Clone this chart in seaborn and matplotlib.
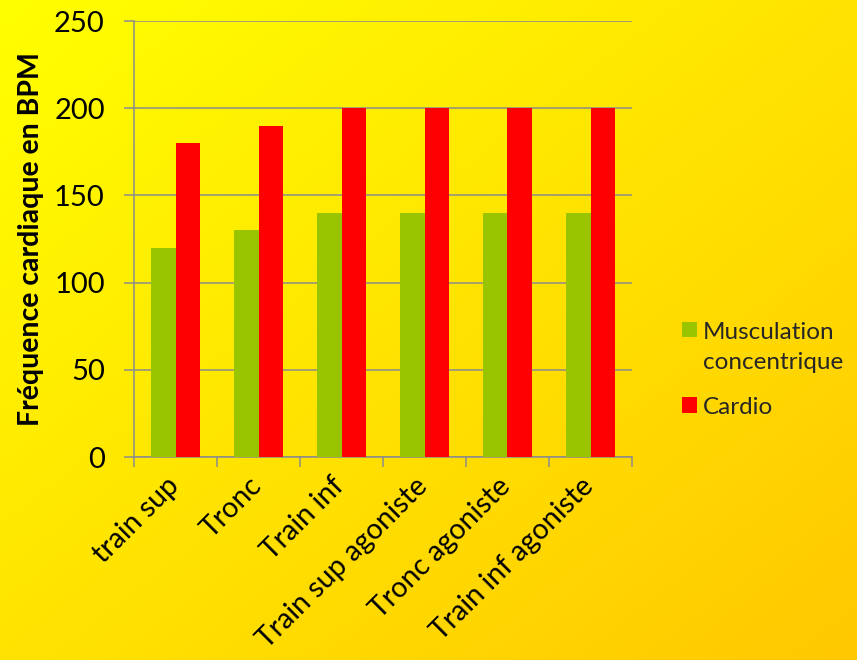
import numpy as np
import pandas as pd
import matplotlib
matplotlib.use("Agg")
import matplotlib.pyplot as plt
import matplotlib.transforms as mtransforms
from matplotlib.patches import Patch
import seaborn as sns

categories = ["train sup", "Tronc", "Train inf", "Train sup agoniste",
              "Tronc agoniste", "Train inf agoniste"]
musculation = [120, 130, 140, 140, 140, 140]
cardio = [180, 190, 200, 200, 200, 200]
series_names = ["Musculation\nconcentrique", "Cardio"]
y_ticks = [0, 50, 100, 150, 200, 250]
y_label = "Fréquence cardiaque en BPM"

GREEN = "#99C400"
RED = "#FF0000"
GRID = "#8C8C8C"

df = pd.DataFrame({
    "cat": categories * 2,
    "val": musculation + cardio,
    "series": [series_names[0]] * len(categories) + [series_names[1]] * len(categories),
})

sns.set_theme(style="white")
plt.rcParams["font.family"] = ["Lato", "DejaVu Sans"]

fig = plt.figure(figsize=(8.57, 6.6), dpi=100)

# gradient background
bg = fig.add_axes([0, 0, 1, 1], zorder=-10)
yy, xx = np.mgrid[0:1:200j, 0:1:200j]
t = (xx + yy) / 2.0
c0 = np.array([255, 255, 0]) / 255.0
c1 = np.array([255, 200, 0]) / 255.0
img = c0[None, None, :] * (1 - t[..., None]) + c1[None, None, :] * t[..., None]
bg.imshow(img, aspect="auto", extent=[0, 1, 0, 1], origin="upper")
bg.axis("off")

ax = fig.add_axes([134 / 857, 1 - 457 / 660, (632 - 134) / 857, (457 - 21) / 660])
ax.set_facecolor("none")

sns.barplot(data=df, x="cat", y="val", hue="series", palette=[GREEN, RED],
            saturation=1, width=0.58, gap=0, linewidth=0, edgecolor="none",
            ax=ax, legend=False, zorder=3)

ax.set_ylim(0, 250)
ax.set_xlim(-0.5, len(categories) - 0.5)
ax.set_yticks(y_ticks)
ax.yaxis.grid(True, color=GRID, linewidth=1.1, zorder=0)
ax.set_axisbelow(True)
for s in ["top", "right"]:
    ax.spines[s].set_visible(False)
for s in ["left", "bottom"]:
    ax.spines[s].set_color(GRID)
    ax.spines[s].set_linewidth(1.1)

ax.tick_params(axis="y", which="major", left=True, length=7, width=1.1,
               color=GRID, pad=14, labelsize=21, labelcolor="black")
ax.set_xticks(np.arange(len(categories)))
ax.set_xticks(np.arange(-0.5, len(categories), 1.0), minor=True)
ax.tick_params(axis="x", which="minor", bottom=True, length=7, width=1.1, color=GRID)
ax.tick_params(axis="x", which="major", bottom=False, length=0, pad=18,
               labelsize=20.5, labelcolor="black")
ax.set_xticklabels(categories, rotation=45, ha="right", va="center",
                   rotation_mode="anchor")
offset = mtransforms.ScaledTranslation(-1 / 100, 0, fig.dpi_scale_trans)
for lab in ax.get_xticklabels():
    lab.set_transform(lab.get_transform() + offset)

ax.set_xlabel("")
ax.set_ylabel(y_label, fontsize=20.5, fontweight="bold", color="black")
ax.yaxis.set_label_coords(-0.18, 0.5)

handles = [Patch(facecolor=GREEN, edgecolor="none"), Patch(facecolor=RED, edgecolor="none")]
leg = fig.legend(handles, series_names, loc="center left",
                 bbox_to_anchor=(672 / 857, 1 - 370 / 660), frameon=False,
                 fontsize=17.5, handlelength=0.62, handleheight=0.62,
                 handletextpad=0.25, labelspacing=1.0, borderaxespad=0)
for txt in leg.get_texts():
    txt.set_linespacing(1.55)
try:
    for col in leg._legend_handle_box.get_children():
        for item in col.get_children():
            item.align = "top"
except Exception:
    pass

fig.savefig("out.png", dpi=100)
